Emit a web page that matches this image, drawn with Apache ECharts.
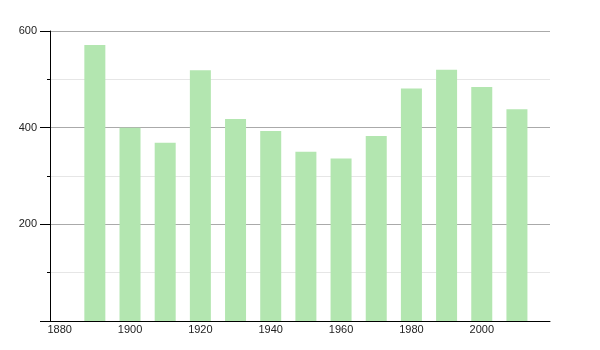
<!DOCTYPE html>
<html>
<head>
<meta charset="utf-8">
<script src="https://cdn.jsdelivr.net/npm/echarts@6/dist/echarts.min.js"></script>
<style>html,body{margin:0;padding:0;background:#fff}#c{width:600px;height:350px}</style>
</head>
<body>
<div id="c"></div>
<script>
const years = [1890, 1900, 1910, 1920, 1930, 1940, 1950, 1960, 1970, 1980, 1990, 2000, 2010];
const values = [571, 400, 369, 519, 418, 393, 350, 336, 383, 481, 520, 484, 438];
const xTickLabels = [1880, 1900, 1920, 1940, 1960, 1980, 2000];
const yMin = 0, yMax = 600, yStep = 200;

const chart = echarts.init(document.getElementById('c'), null, {renderer: 'canvas'});
chart.setOption({
  animation: false,
  grid: {left: 50, right: 50, top: 31, bottom: 29, containLabel: false},
  xAxis: {
    type: 'value', min: 1877.25, max: 2019.4,
    axisLine: {show: true, lineStyle: {color: '#000', width: 1}},
    axisTick: {show: false},
    splitLine: {show: false},
    axisLabel: {customValues: xTickLabels, color: '#222', fontSize: 11, fontFamily: 'Liberation Sans, Arial, sans-serif', margin: 3, formatter: v => String(v)}
  },
  yAxis: {
    type: 'value', min: yMin, max: yMax, interval: yStep,
    axisLine: {show: true, lineStyle: {color: '#000', width: 1}},
    axisTick: {show: true, length: 10, lineStyle: {color: '#000'}},
    minorTick: {show: true, splitNumber: 2, length: 3, lineStyle: {color: '#000'}},
    splitLine: {show: true, lineStyle: {color: '#aaa', width: 1}},
    minorSplitLine: {show: true, lineStyle: {color: '#e6e6e6', width: 1}},
    axisLabel: {color: '#222', fontSize: 11, fontFamily: 'Liberation Sans, Arial, sans-serif', margin: 13, formatter: v => v === 0 ? '' : String(v)}
  },
  series: [{
    type: 'bar',
    data: years.map((y, i) => [y, values[i]]),
    barWidth: 21,
    itemStyle: {color: '#b3e6b0'}
  }]
});
</script>
</body>
</html>
